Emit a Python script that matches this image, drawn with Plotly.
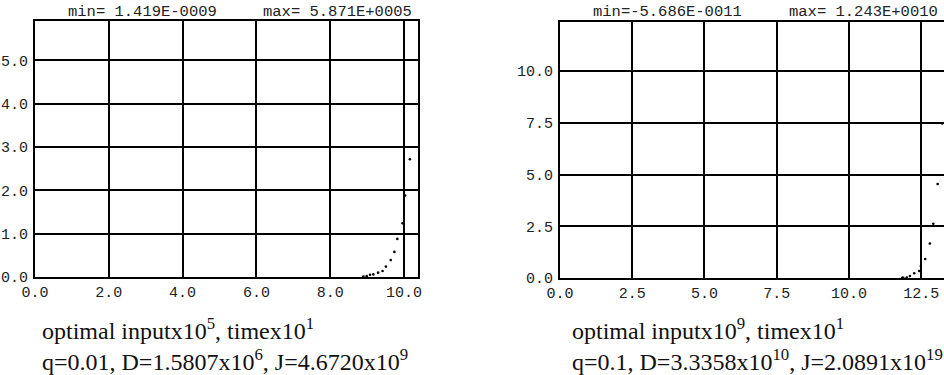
import plotly.graph_objects as go

W, H = 944, 375

# ---- data ----
left_t = [8.90, 8.99, 9.08, 9.17, 9.30, 9.42, 9.51, 9.64, 9.74, 9.82, 9.96, 10.03, 10.16, 10.29]
left_u = [0.01, 0.02, 0.05, 0.06, 0.10, 0.14, 0.24, 0.39, 0.58, 0.88, 1.24, 1.88, 2.72, -0.60]
right_t = [11.85, 11.88, 12.00, 12.11, 12.26, 12.43, 12.49, 12.64, 12.80, 12.92, 13.07, 13.23, 13.21]
right_u = [0.01, 0.01, 0.02, 0.10, 0.23, 0.34, 0.58, 0.92, 1.67, 2.62, 4.54, 7.47, -1.27]

left_xticks = [0, 2, 4, 6, 8, 10]
left_yticks = [0, 1, 2, 3, 4, 5]
right_xticks = [0, 2.5, 5.0, 7.5, 10.0, 12.5]
right_yticks = [0, 2.5, 5.0, 7.5, 10.0]

left_min, left_max = "min= 1.419E-0009", "max= 5.871E+0005"
right_min, right_max = "min=-5.686E-0011", "max= 1.243E+0010"
left_caption = "optimal inputx10<sup>5</sup>, timex10<sup>1</sup><br>q=0.01, D=1.5807x10<sup>6</sup>, J=4.6720x10<sup>9</sup>"
right_caption = "optimal inputx10<sup>9</sup>, timex10<sup>1</sup><br>q=0.1, D=3.3358x10<sup>10</sup>, J=2.0891x10<sup>19</sup>"

MONO = "Liberation Mono"
SERIF = "Liberation Serif"

def px_x(p):
    return p / W

def px_y(p):
    return 1 - p / H

fig = go.Figure()
fig.add_trace(go.Scatter(x=left_t, y=left_u, mode="markers", xaxis="x", yaxis="y",
                         marker=dict(color="black", size=2.6), cliponaxis=False, showlegend=False))
fig.add_trace(go.Scatter(x=right_t, y=right_u, mode="markers", xaxis="x2", yaxis="y2",
                         marker=dict(color="black", size=2.6), cliponaxis=False, showlegend=False))

axis_common = dict(showgrid=True, gridcolor="black", gridwidth=1.6, zeroline=False,
                   showline=True, linecolor="black", linewidth=2, ticks="", automargin=False,
                   tickfont=dict(family=MONO, size=15, color="#222"))

fig.update_layout(
    width=W, height=H, margin=dict(l=0, r=0, t=0, b=0),
    paper_bgcolor="white", plot_bgcolor="white", showlegend=False,
    xaxis=dict(axis_common, domain=[px_x(35), px_x(418)], range=[0, 10.38],
               tickvals=left_xticks, tickformat=".1f", mirror=True, anchor="y",
               ticklabelstandoff=0),
    yaxis=dict(axis_common, domain=[px_y(277), px_y(21)], range=[0, 5.91],
               tickvals=left_yticks, tickformat=".1f", mirror=True, anchor="x",
               ticklabelstandoff=2),
    xaxis2=dict(axis_common, domain=[px_x(560), 1.0], range=[0, 13.29],
                tickvals=right_xticks, tickformat=".1f", mirror=True, anchor="y2",
                ticklabelstandoff=0),
    yaxis2=dict(axis_common, domain=[px_y(278), px_y(22)], range=[0, 12.37],
                tickvals=right_yticks, tickformat=".1f", mirror=False, anchor="x2",
                ticklabelstandoff=2),
)

def ann(text, x, y, font, xanchor="left", yanchor="middle", align="left"):
    fig.add_annotation(text=text, x=px_x(x), y=px_y(y), xref="paper", yref="paper",
                       xanchor=xanchor, yanchor=yanchor, align=align, showarrow=False, font=font)

tfont = dict(family=MONO, size=15.5, color="#222")
ann(left_min, 66, 12, tfont)
ann(left_max, 261, 12, tfont)
ann(right_min, 591, 12, tfont)
ann(right_max, 787, 12, tfont)

cfont = dict(family=SERIF, size=24, color="#111")
ann(left_caption, 40, 344, cfont)
ann(right_caption, 570, 344, cfont)

fig.write_html("out.html", config={"displayModeBar": False},
               post_script="document.body.style.margin='0';document.body.style.overflow='hidden';")
